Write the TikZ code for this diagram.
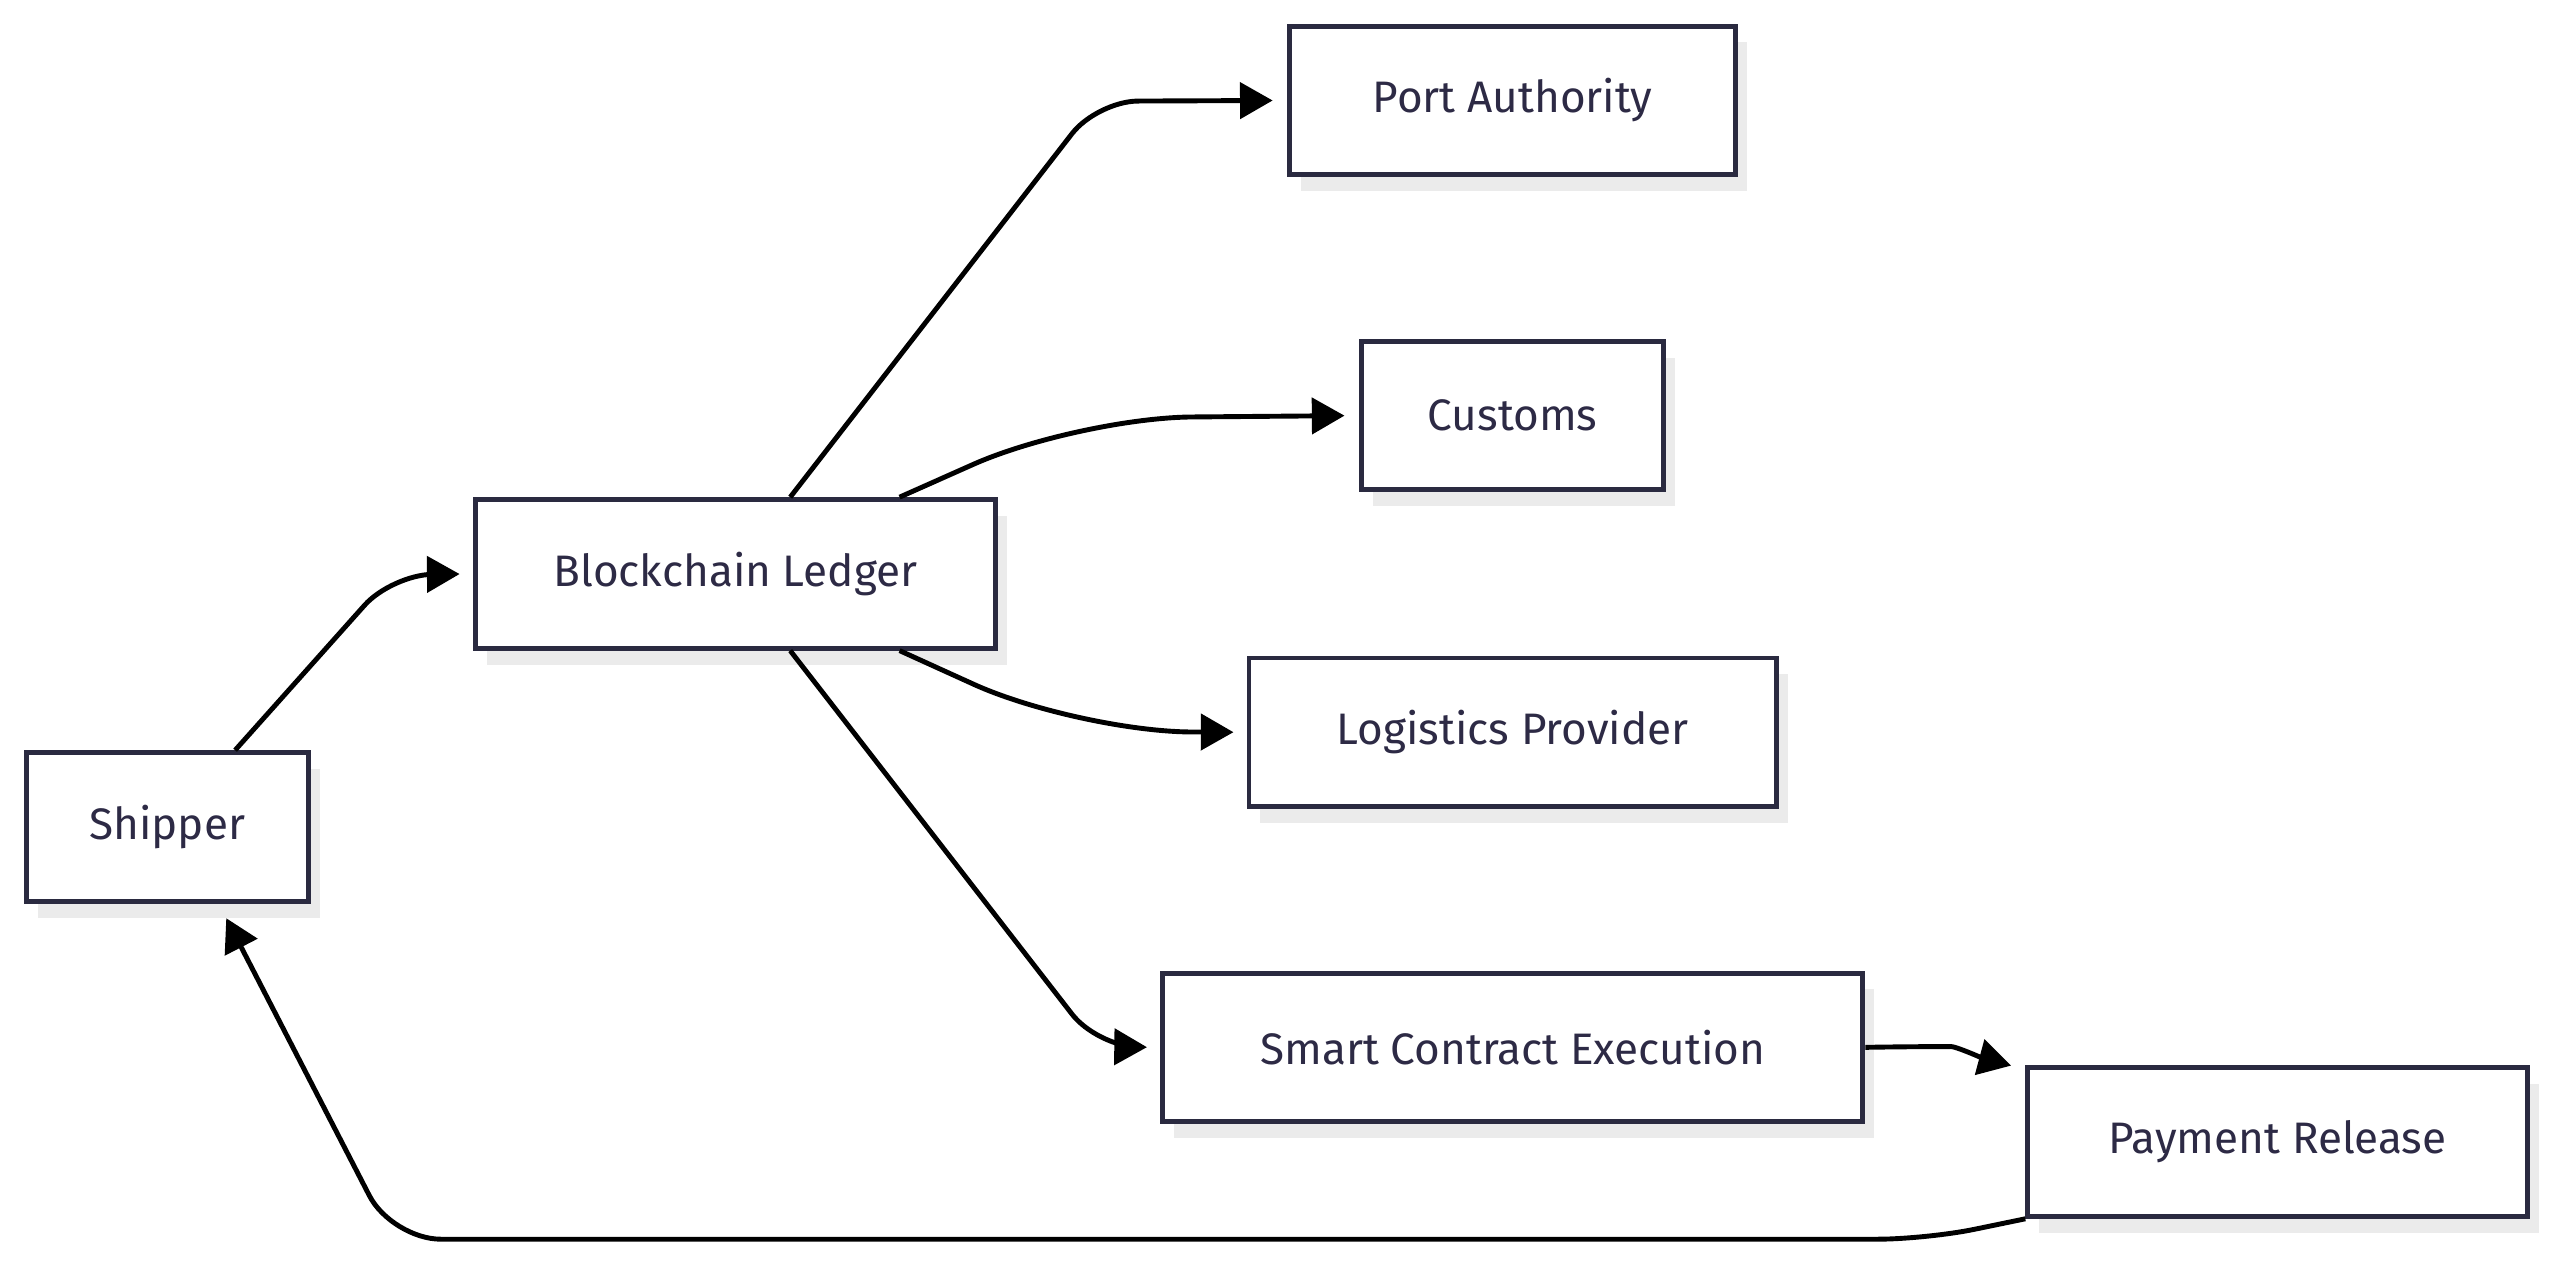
\documentclass[tikz,border=0pt]{standalone}
\usepackage{fontspec}
\setmainfont{Fira Sans}
\usetikzlibrary{arrows.meta}
\definecolor{bd}{HTML}{2A2A40}
\definecolor{tx}{HTML}{2D2A45}
\definecolor{sh}{HTML}{EBEBEB}
\begin{document}
\begin{tikzpicture}[x=1pt,y=1pt,
 box/.style={draw=bd,line width=3pt,fill=white,text=tx,font=\fontsize{27}{30}\selectfont,inner sep=0pt,anchor=center},
 shad/.style={fill=sh,draw=none},
 edge/.style={line width=3pt,-{Triangle[length=20pt,width=22pt]},rounded corners=25pt}]
\useasboundingbox (0,0) rectangle (1568,-777);
\newcommand{\bx}[6]{%
 \fill[shad] (#2+7,-#4-10) rectangle (#3+7,-#5-10);
 \node[box,minimum width=#3-#2,minimum height=#5-#4] (#1) at ({(#2+#3)/2},{-(#4+#5)/2}) {#6};}
\bx{port}{790}{1063}{16}{107}{Port Authority}
\bx{customs}{834}{1019}{209}{300}{Customs}
\bx{ledger}{291}{610}{306}{397}{Blockchain Ledger}
\bx{logistics}{765}{1088}{403}{494}{Logistics Provider}
\bx{shipper}{16}{189}{461}{552}{Shipper}
\bx{smart}{712}{1141}{596}{687}{Smart Contract Execution}
\bx{payment}{1242}{1548}{654}{745}{Payment Release}
\draw[edge,shorten >=8pt] (shipper.north -| 144,0) -- (240,-352) -- (ledger.west);
\draw[edge,shorten >=9pt] (ledger.north -| 484,0) -- (672,-62) -- (port.west);
\draw[edge,shorten >=9pt,rounded corners=70pt] (ledger.north -| 551,0) -- (660,-256) -- (customs.west);
\draw[edge,shorten >=8pt,rounded corners=70pt] (ledger.south -| 551,0) -- (660,-448) -- (logistics.west);
\draw[edge,shorten >=8pt] (ledger.south -| 484,0) -- (672,-641) -- (smart.west);
\draw[edge,shorten >=9pt] (smart.east) -- (1170,-641) to[out=0,in=165] (payment.west |- 0,-655);
\draw[edge,shorten >=10pt,rounded corners=30pt] (payment.south west) -- (1180,-759) -- (240,-759) -- (shipper.south -| 134,0);
\end{tikzpicture}
\end{document}
